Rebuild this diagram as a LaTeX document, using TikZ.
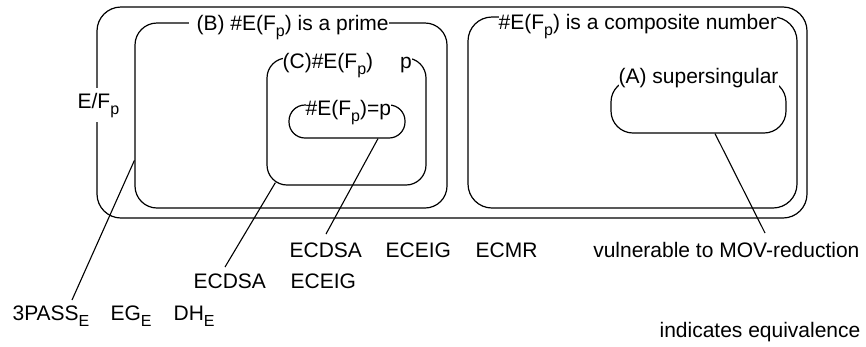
\documentclass[tikz,border=0pt]{standalone}
\usepackage{fontspec}
\setmainfont{Liberation Sans}
\newcommand\sbs[1]{\raisebox{-6pt}{\fontsize{16}{16}\selectfont #1}}
\begin{document}
\begin{tikzpicture}[x=1pt,y=-1pt,line width=1.2pt,
  box/.style={draw,inner sep=0pt,line width=1.2pt},
  lbl/.style={font=\fontsize{21}{25}\selectfont,inner sep=0pt,anchor=base west},
  tag/.style={lbl,fill=white,inner ysep=2pt},
  link/.style={draw,line width=1.1pt}]
\useasboundingbox (0,0) rectangle (866,346);
% boxes
\node[box,rounded corners=24pt,minimum width=710pt,minimum height=211pt] (outer) at (452,112.5) {};
\node[box,rounded corners=22pt,minimum width=312pt,minimum height=185pt] (B) at (291,115.5) {};
\node[box,rounded corners=24pt,minimum width=329pt,minimum height=191pt] (comp) at (632.5,112.5) {};
\node[box,rounded corners=20pt,minimum width=159pt,minimum height=127pt] (C) at (346.5,121.5) {};
\node[box,rounded corners=16pt,minimum width=116pt,minimum height=33pt] (in) at (347,121.5) {};
\node[box,rounded corners=22pt,minimum width=175pt,minimum height=53pt] (A) at (698.5,106.5) {};
% labels on boxes
\node[tag,inner xsep=0pt] (tB) at (188,30) {\hspace{8pt}(B) \#E(F\sbs{p}) is a prime};
\node[tag,inner xsep=0pt] (tcomp) at (498,29) {\#E(F\sbs{p}) is a composite number};
\node[tag,inner xsep=0pt] (tC) at (282,68) {(C)\#E(F\sbs{p})\hspace{27pt}p};
\node[tag,inner xsep=0pt] (tin) at (305,115) {\#E(F\sbs{p})=p};
\node[tag,inner xsep=0pt] (tA) at (618,83) {(A) supersingular};
\node[tag,inner xsep=1pt,inner ysep=5pt] (tE) at (76,108) {E/F\sbs{p}};
% texts below
\node[lbl] (r1a) at (289,257) {ECDSA};
\node[lbl] (r1b) at (385,257) {ECEIG};
\node[lbl] (r1c) at (475,257) {ECMR};
\node[lbl,anchor=base east] (vul) at (860,257) {vulnerable to MOV-reduction};
\node[lbl] (r2a) at (193,288) {ECDSA};
\node[lbl] (r2b) at (290,288) {ECEIG};
\node[lbl] (r3a) at (12,320) {3PASS\sbs{E}};
\node[lbl] (r3b) at (110,320) {EG\sbs{E}};
\node[lbl] (r3c) at (173,320) {DH\sbs{E}};
\node[lbl,anchor=base east] (equiv) at (861,337) {indicates equivalence};
% free ends
\coordinate (e1) at (72,300);
\coordinate (e2) at (225,267);
\coordinate (e3) at (326,234);
\coordinate (e4) at (765,233);
% connectors
\draw[link] (B.196) -- (e1);
\draw[link] ([xshift=9pt,yshift=3pt]C.south west) -- (e2);
\draw[link] ([xshift=31pt]in.south) -- (e3);
\draw[link] ([xshift=16.5pt]A.south) -- (e4);
\end{tikzpicture}
\end{document}
